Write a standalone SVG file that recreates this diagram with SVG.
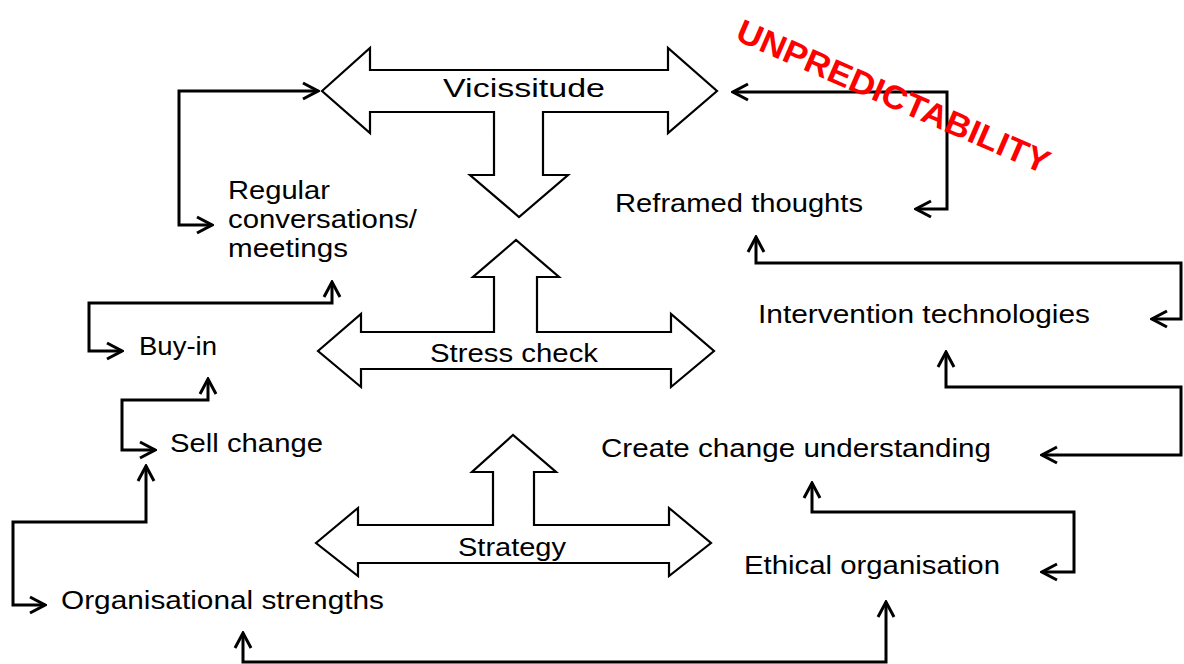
<svg xmlns="http://www.w3.org/2000/svg" width="1184" height="664" viewBox="0 0 1184 664">
<defs>
<style>
.bg{fill:#ffffff}
.big{fill:#ffffff;stroke:#000000;stroke-width:2.2;stroke-linejoin:miter}
.lbl{font-family:"Liberation Sans",Arial,sans-serif;font-size:25px;fill:#000000}
.con{fill:none;stroke:#000000;stroke-width:3;stroke-linejoin:miter;marker-start:url(#ah);marker-end:url(#ah)}
.red{font-family:"Liberation Sans",Arial,sans-serif;font-size:33px;font-weight:bold;fill:#ff0000}
</style>
<marker id="ah" markerUnits="userSpaceOnUse" viewBox="-18 -10 20 20" refX="0" refY="0" markerWidth="20" markerHeight="20" orient="auto-start-reverse">
<path d="M-15,-8 L0,0 L-15,8" fill="none" stroke="#000000" stroke-width="3" stroke-linejoin="miter"/>
</marker>
</defs>
<rect class="bg" x="0" y="0" width="1184" height="664"/>

<g id="vicissitude">
<polygon class="big" points="322,91 370,48 370,70 668,70 668,48 717,91 668,133 668,112 543,112 543,175 568,175 519,217 470,175 494,175 494,112 370,112 370,133"/>
<text class="lbl" x="443" y="97" font-size="30" textLength="162" lengthAdjust="spacingAndGlyphs">Vicissitude</text>
</g>

<g id="stress-check">
<polygon class="big" points="318,351 361,314 361,332 494,332 494,277 473,277 516,240 559,277 537,277 537,332 671,332 671,314 714,351 671,387 671,369 361,369 361,387"/>
<text class="lbl" x="430" y="362" textLength="168" lengthAdjust="spacingAndGlyphs">Stress check</text>
</g>

<g id="strategy">
<polygon class="big" points="316,543 358,508 358,525 493,525 493,472 472,472 513,435 556,472 534,472 534,525 669,525 669,508 711,543 669,576 669,563 358,563 358,576"/>
<text class="lbl" x="458" y="556" textLength="108" lengthAdjust="spacingAndGlyphs">Strategy</text>
</g>

<g id="regular-conversations">
<text class="lbl" x="228" y="199" textLength="102" lengthAdjust="spacingAndGlyphs">Regular</text>
<text class="lbl" x="228" y="228" textLength="189" lengthAdjust="spacingAndGlyphs">conversations/</text>
<text class="lbl" x="228" y="257" textLength="120" lengthAdjust="spacingAndGlyphs">meetings</text>
</g>

<g id="reframed-thoughts">
<text class="lbl" x="615" y="212" textLength="248" lengthAdjust="spacingAndGlyphs">Reframed thoughts</text>
</g>

<g id="intervention-technologies">
<text class="lbl" x="758" y="323" textLength="332" lengthAdjust="spacingAndGlyphs">Intervention technologies</text>
</g>

<g id="create-change-understanding">
<text class="lbl" x="601" y="457" textLength="390" lengthAdjust="spacingAndGlyphs">Create change understanding</text>
</g>

<g id="ethical-organisation">
<text class="lbl" x="744" y="574" textLength="256" lengthAdjust="spacingAndGlyphs">Ethical organisation</text>
</g>

<g id="buy-in">
<text class="lbl" x="139" y="355" textLength="78" lengthAdjust="spacingAndGlyphs">Buy-in</text>
</g>

<g id="sell-change">
<text class="lbl" x="170" y="452" textLength="153" lengthAdjust="spacingAndGlyphs">Sell change</text>
</g>

<g id="organisational-strengths">
<text class="lbl" x="61" y="609" textLength="323" lengthAdjust="spacingAndGlyphs">Organisational strengths</text>
</g>

<g id="connectors">
<path class="con" d="M318,91 L179,91 L179,225 L212,225"/>
<path class="con" d="M733,92 L947,92 L947,209 L916,209"/>
<path class="con" d="M332,282 L332,303 L89,303 L89,351 L122,351"/>
<path class="con" d="M208,379 L208,400 L122,400 L122,450 L155,450"/>
<path class="con" d="M146,466 L146,522 L13,522 L13,605 L45,605"/>
<path class="con" d="M243,633 L243,662 L886,662 L886,602"/>
<path class="con" d="M812,483 L812,512 L1074,512 L1074,572 L1042,572"/>
<path class="con" d="M946,352 L946,387 L1181,387 L1181,455 L1042,455"/>
<path class="con" d="M756,237 L756,263 L1181,263 L1181,319 L1152,319"/>
</g>

<g id="unpredictability">
<text class="red" x="889" y="107" text-anchor="middle" textLength="338" lengthAdjust="spacingAndGlyphs" transform="rotate(23.5 889 107)">UNPREDICTABILITY</text>
</g>
</svg>
